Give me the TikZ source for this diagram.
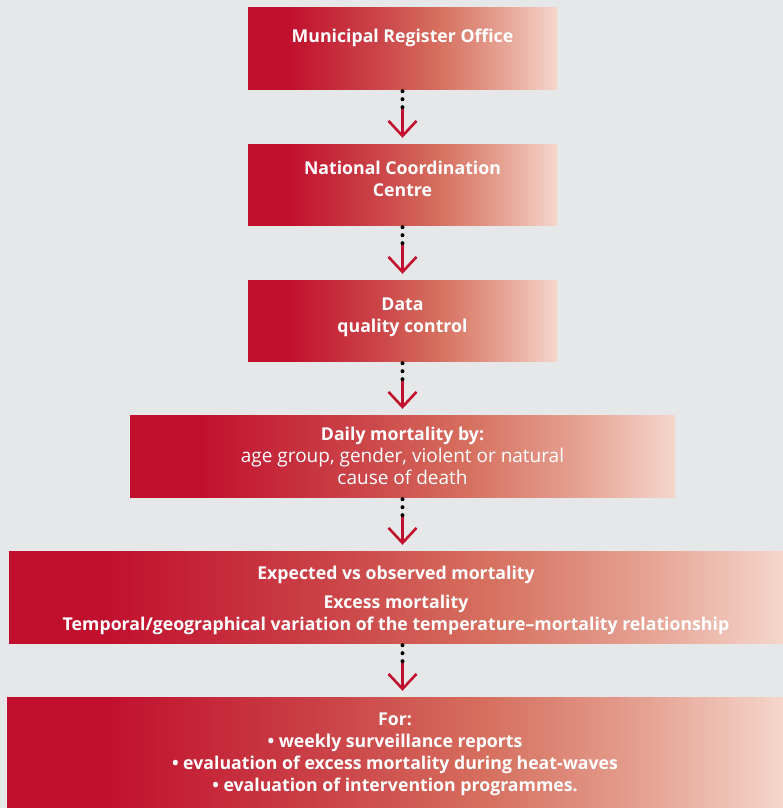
\documentclass[tikz,border=0pt]{standalone}
\usepackage{fontspec}
\setmainfont{Open Sans}
\usetikzlibrary{arrows.meta}

\definecolor{bgrey}{HTML}{E6E7E8}
\definecolor{crimson}{HTML}{C1102E}
\definecolor{fadeA}{HTML}{CB4448}
\definecolor{fadeB}{HTML}{D6705F}
\definecolor{fadeC}{HTML}{E5A192}
\definecolor{pale}{HTML}{F5D6CB}

% left to right fade, the path spans 25bp..75bp
\pgfdeclarehorizontalshading{redfade}{100bp}{color(0bp)=(crimson); color(31.5bp)=(crimson);
  color(46bp)=(fadeA); color(56bp)=(fadeB); color(66bp)=(fadeC); color(75bp)=(pale); color(100bp)=(pale)}

\newcommand{\plainline}{\fontsize{19}{22}\selectfont\mdseries}

\tikzset{
  fadebox/.style={shading=redfade, draw=none, inner sep=0pt},
  boxtext/.style={anchor=north, inner sep=0pt, text=white, align=center,
    font=\fontsize{17.7}{22}\selectfont\bfseries},
  dotline/.style={line width=4pt, line cap=round, dash pattern=on 0pt off 8pt},
  flow/.style={draw=crimson, line width=2.6pt, shorten >=6pt,
    -{Straight Barb[length=15pt,width=28pt]}}
}

\begin{document}
\begin{tikzpicture}[x=1pt,y=-1pt]
    \fill[bgrey] (0,0) rectangle (783,808);
    \useasboundingbox (0,0) rectangle (783,808);
    % Municipal register box
    \node[fadebox, minimum width=309pt, minimum height=81pt] (reg) at (402.5,48.5) {};
    \node[boxtext] (regtxt) at ([yshift=-20.5pt]reg.north) {Municipal Register Office};
    % National centre box
    \node[fadebox, minimum width=309pt, minimum height=81pt] (ncc) at (402.5,184.5) {};
    \node[boxtext] (ncctxt) at ([yshift=-17.5pt]ncc.north) {National Coordination\\Centre};
    % Quality control box
    \node[fadebox, minimum width=309pt, minimum height=81pt] (qc) at (402.5,320.5) {};
    \node[boxtext] (qctxt) at ([yshift=-18pt]qc.north) {Data\\quality control};
    % Daily mortality box
    \node[fadebox, minimum width=545pt, minimum height=82pt] (daily) at (402.5,456) {};
    \node[boxtext] (dailytxt) at ([yshift=-12pt]daily.north)
      {Daily mortality by:\\\plainline age group, gender, violent or natural\\\plainline cause of death};
    % Excess mortality box
    \node[fadebox, minimum width=774pt, minimum height=92pt] (exc) at (396,597) {};
    \node[boxtext] (exctxt) at ([yshift=-15pt]exc.north)
      {Expected vs observed mortality\\[7pt]Excess mortality\\Temporal/geographical variation of the temperature\textendash mortality relationship};
    % Uses box
    \node[fadebox, minimum width=776pt, minimum height=111pt] (use) at (395,752.5) {};
    \node[boxtext] (usetxt) at ([yshift=-16pt]use.north)
      {For:\\\textbullet{} weekly surveillance reports\\\textbullet{} evaluation of excess mortality during heat-waves\\\textbullet{} evaluation of intervention programmes.};
    % Arrows between boxes
    \draw[flow] ([yshift=-18pt]reg.south) -- (ncc.north);
    \draw[dotline] ([yshift=-2pt]reg.south) -- ([yshift=-18pt]reg.south);
    \draw[flow] ([yshift=-18pt]ncc.south) -- (qc.north);
    \draw[dotline] ([yshift=-2pt]ncc.south) -- ([yshift=-18pt]ncc.south);
    \draw[flow] ([yshift=-18pt]qc.south) -- (daily.north);
    \draw[dotline] ([yshift=-2pt]qc.south) -- ([yshift=-18pt]qc.south);
    \draw[flow] ([yshift=-18pt]daily.south) -- ([xshift=6.5pt]exc.north);
    \draw[dotline] ([yshift=-2pt]daily.south) -- ([yshift=-18pt]daily.south);
    \draw[flow] ([xshift=6.5pt,yshift=-18pt]exc.south) -- ([xshift=7.5pt]use.north);
    \draw[dotline] ([xshift=6.5pt,yshift=-2pt]exc.south) -- ([xshift=6.5pt,yshift=-18pt]exc.south);
\end{tikzpicture}
\end{document}
